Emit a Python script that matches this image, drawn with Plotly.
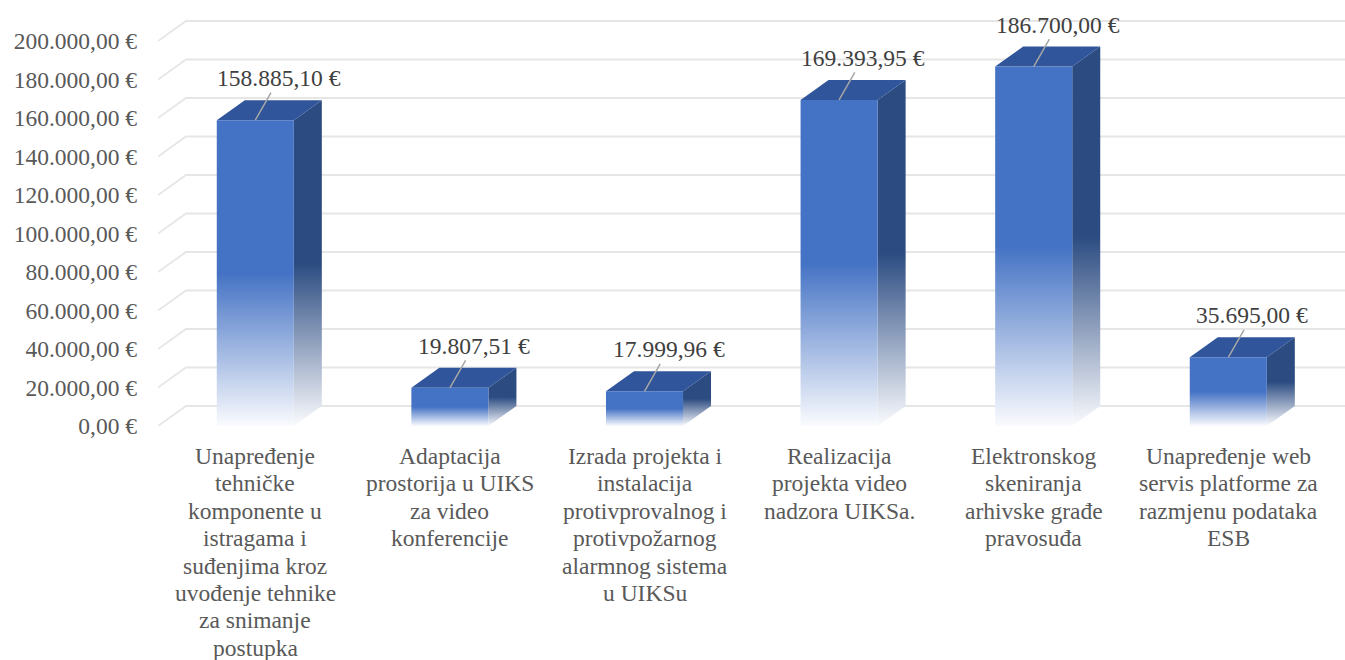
import plotly.graph_objects as go

# ---------------- data ----------------
categories = [
    "Unapređenje<br>tehničke<br>komponente u<br>istragama i<br>suđenjima kroz<br>uvođenje tehnike<br>za snimanje<br>postupka",
    "Adaptacija<br>prostorija u UIKS<br>za video<br>konferencije",
    "Izrada projekta i<br>instalacija<br>protivprovalnog i<br>protivpožarnog<br>alarmnog sistema<br>u UIKSu",
    "Realizacija<br>projekta video<br>nadzora UIKSa.",
    "Elektronskog<br>skeniranja<br>arhivske građe<br>pravosuđa",
    "Unapređenje web<br>servis platforme za<br>razmjenu podataka<br>ESB",
]
values = [158885.10, 19807.51, 17999.96, 169393.95, 186700.00, 35695.00]
y_ticks = [0, 20000, 40000, 60000, 80000, 100000, 120000, 140000, 160000, 180000, 200000]

# ---------------- style / geometry ----------------
W, H = 1345, 660
M_L, M_R, M_T, M_B = 158, 0, 0, 234
PX_PER_CAT = 194.6
PX_PER_UNIT = 385.0 / 200000.0
DEPTH_PX_X, DEPTH_PX_Y = 28.0, 20.0
BAR_W = 0.396

plot_w = W - M_L - M_R
plot_h = H - M_T - M_B
x_min = -0.5
x_max = x_min + plot_w / PX_PER_CAT
y_top = plot_h / PX_PER_UNIT
dx = DEPTH_PX_X / PX_PER_CAT
dy = DEPTH_PX_Y / PX_PER_UNIT

FRONT = "#4472C4"
TOP = "#30559B"
SIDE = "#2B4B81"
FADE = "rgb(250,251,254)"
GRID = "rgb(230,230,230)"
FONT = "Liberation Serif, Times New Roman, serif"


def fmt(v):
    s = f"{v:,.2f}"
    return s.replace(",", "X").replace(".", ",").replace("X", ".") + " €"


fig = go.Figure()

# gridlines on back wall + left side wall
gx, gy = [], []
for g in y_ticks:
    gx += [x_min, x_min + dx, x_max + 1, None]
    gy += [g, g + dy, g + dy, None]
fig.add_trace(go.Scatter(x=gx, y=gy, mode="lines", line=dict(color=GRID, width=1.8),
                         hoverinfo="skip", showlegend=False))

for i, v in enumerate(values):
    x0, x1 = i - BAR_W / 2, i + BAR_W / 2
    # side face
    fig.add_trace(go.Scatter(
        x=[x1, x1 + dx, x1 + dx, x1, x1], y=[0, dy, v + dy, v, 0],
        mode="lines", fill="toself", line=dict(width=0),
        fillgradient=dict(type="vertical", colorscale=[[0, FADE], [0.5, SIDE], [1, SIDE]]),
        hoverinfo="skip", showlegend=False))
    # top face
    fig.add_trace(go.Scatter(
        x=[x0, x1, x1 + dx, x0 + dx, x0], y=[v, v, v + dy, v + dy, v],
        mode="lines", fill="toself", fillcolor=TOP, line=dict(width=0),
        hoverinfo="skip", showlegend=False))
    # front face
    fig.add_trace(go.Scatter(
        x=[x0, x1, x1, x0, x0], y=[0, 0, v, v, 0],
        mode="lines", fill="toself", line=dict(width=0),
        fillgradient=dict(type="vertical", colorscale=[[0, FADE], [0.5, FRONT], [1, FRONT]]),
        hoverinfo="skip", showlegend=False))
    # data label with leader line
    fig.add_annotation(x=i, y=v, xref="x", yref="y", text=fmt(v),
                       showarrow=True, arrowhead=0, arrowwidth=1.5, arrowcolor="#A6A6A6",
                       ax=24, ay=-42, standoff=0,
                       font=dict(family=FONT, size=23.5, color="#404040"))
    # category label lines
    for k, line in enumerate(categories[i].split("<br>")):
        fig.add_annotation(x=i, y=0, xref="x", yref="paper", text=line, showarrow=False,
                           yanchor="middle", yshift=-(30 + k * 27.4),
                           font=dict(family=FONT, size=23.5, color="#595959"))

fig.update_layout(
    width=W, height=H,
    margin=dict(l=M_L, r=M_R, t=M_T, b=M_B, pad=0),
    paper_bgcolor="white", plot_bgcolor="white",
    showlegend=False,
    font=dict(family=FONT),
    xaxis=dict(range=[x_min, x_max], showgrid=False, zeroline=False,
               showticklabels=False, showline=False, fixedrange=True),
    yaxis=dict(range=[0, y_top], showgrid=False, zeroline=False, showline=False,
               tickmode="array", tickvals=y_ticks, ticktext=[fmt(g) for g in y_ticks],
               ticklabelstandoff=20,
               tickfont=dict(family=FONT, size=23.5, color="#595959"), fixedrange=True),
)

fig.write_html("out.html", config={"displayModeBar": False},
               post_script="document.body.style.margin='0';document.body.style.overflow='hidden';")
